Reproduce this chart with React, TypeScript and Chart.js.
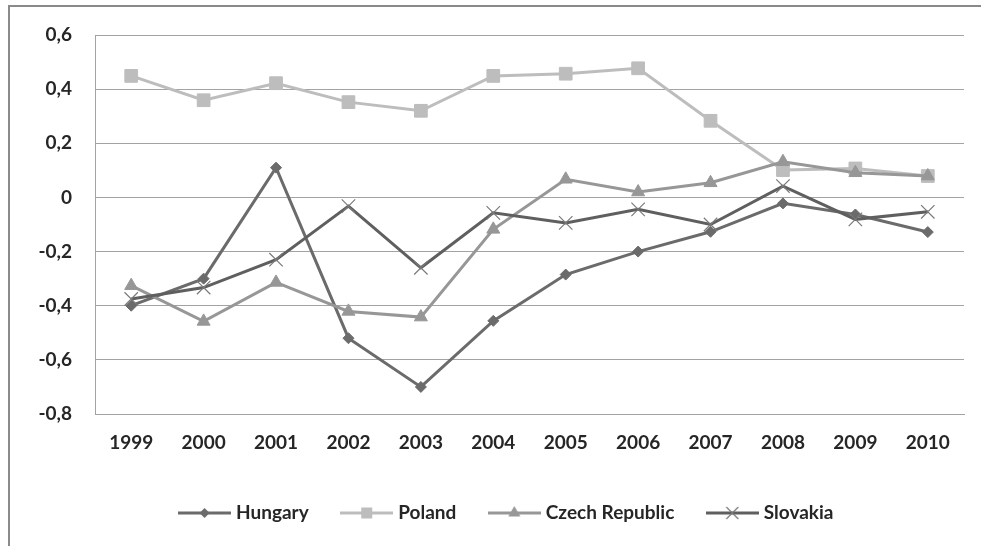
import React, { useEffect, useRef } from "react";
import { Chart, registerables } from "chart.js";

Chart.register(...registerables);

const years = ["1999", "2000", "2001", "2002", "2003", "2004", "2005", "2006", "2007", "2008", "2009", "2010"];
const hungary = [-0.4, -0.3, 0.11, -0.52, -0.7, -0.456, -0.285, -0.2, -0.127, -0.022, -0.063, -0.128];
const poland = [0.449, 0.359, 0.422, 0.352, 0.32, 0.449, 0.457, 0.477, 0.283, 0.101, 0.107, 0.079];
const czech = [-0.326, -0.458, -0.314, -0.421, -0.442, -0.118, 0.067, 0.02, 0.054, 0.132, 0.091, 0.079];
const slovakia = [-0.375, -0.333, -0.23, -0.032, -0.26, -0.057, -0.094, -0.044, -0.1, 0.042, -0.081, -0.053];
const seriesNames = ["Hungary", "Poland", "Czech Republic", "Slovakia"];
const yTicks = [-0.8, -0.6, -0.4, -0.2, 0, 0.2, 0.4, 0.6];

const FONT = { family: "Lato, 'Open Sans', sans-serif", size: 19, weight: "bold" as const };
const TEXT = "#262626";
const GRID = "#a3a3a3";

type Spec = { color: string; style: string; radius: number; markerColor: string; markerWidth: number };

const specs: Spec[] = [
  { color: "#6b6b6b", style: "rectRot", radius: 5.5, markerColor: "#6b6b6b", markerWidth: 1 },
  { color: "#bdbdbd", style: "rect", radius: 9, markerColor: "#bdbdbd", markerWidth: 1 },
  { color: "#979797", style: "triangle", radius: 7.5, markerColor: "#979797", markerWidth: 1 },
  { color: "#5f5f5f", style: "crossRot", radius: 9.5, markerColor: "#7a7a7a", markerWidth: 1.2 },
];

function makeIcon(s: Spec): HTMLCanvasElement {
  const c = document.createElement("canvas");
  c.width = 53;
  c.height = 18;
  const ctx = c.getContext("2d")!;
  const cy = 9;
  const cx = 26.5;
  ctx.strokeStyle = s.color;
  ctx.lineWidth = 3;
  ctx.beginPath();
  ctx.moveTo(0, cy);
  ctx.lineTo(53, cy);
  ctx.stroke();
  ctx.fillStyle = s.markerColor;
  ctx.strokeStyle = s.markerColor;
  ctx.lineWidth = s.markerWidth;
  ctx.beginPath();
  if (s.style === "rectRot") {
    const r = 5;
    ctx.moveTo(cx - r, cy);
    ctx.lineTo(cx, cy - r);
    ctx.lineTo(cx + r, cy);
    ctx.lineTo(cx, cy + r);
    ctx.closePath();
    ctx.fill();
  } else if (s.style === "rect") {
    const h = 5.5;
    ctx.rect(cx - h, cy - h, 2 * h, 2 * h);
    ctx.fill();
  } else if (s.style === "triangle") {
    const r = 7;
    ctx.moveTo(cx, cy - r);
    ctx.lineTo(cx + r * 0.866, cy + r * 0.5);
    ctx.lineTo(cx - r * 0.866, cy + r * 0.5);
    ctx.closePath();
    ctx.fill();
  } else {
    const d = 6;
    ctx.moveTo(cx - d, cy - d);
    ctx.lineTo(cx + d, cy + d);
    ctx.moveTo(cx + d, cy - d);
    ctx.lineTo(cx - d, cy + d);
    ctx.stroke();
  }
  return c;
}

const framePlugin = {
  id: "frame",
  afterLayout(chart: any) {
    // centre the legend row under the original figure position
    if (chart.legend) {
      chart.legend.left += 32;
    }
  },
  beforeDraw(chart: any) {
    const ctx = chart.ctx;
    ctx.save();
    ctx.strokeStyle = "#8a8a8a";
    ctx.lineWidth = 2;
    ctx.beginPath();
    ctx.moveTo(9, 546);
    ctx.lineTo(9, 6);
    ctx.lineTo(981, 6);
    ctx.stroke();
    ctx.restore();
  },
};

export default function App() {
  const ref = useRef<HTMLCanvasElement | null>(null);

  useEffect(() => {
    document.body.style.margin = "0";
    const icons = specs.map(makeIcon);
    const values = [hungary, poland, czech, slovakia];
    const chart = new Chart(ref.current!, {
      type: "line",
      data: {
        labels: years,
        datasets: values.map((v, i) => ({
          label: seriesNames[i],
          data: v,
          borderColor: specs[i].color,
          backgroundColor: specs[i].markerColor,
          borderWidth: 3,
          pointStyle: specs[i].style as any,
          pointRadius: specs[i].radius,
          pointBackgroundColor: specs[i].markerColor,
          pointBorderColor: specs[i].markerColor,
          pointBorderWidth: specs[i].markerWidth,
          tension: 0,
          fill: false,
          order: 3 - i,
        })),
      },
      options: {
        responsive: false,
        animation: false,
        layout: { padding: { left: 20, right: 17, top: 35, bottom: 13.5 } },
        scales: {
          x: {
            offset: true,
            grid: { display: false, drawTicks: false },
            border: { display: true, color: GRID, width: 1 },
            ticks: { color: TEXT, font: FONT, padding: 17, maxRotation: 0 },
            afterFit: (s: any) => {
              s.height = 53.5;
            },
          },
          y: {
            min: -0.8,
            max: 0.6,
            afterBuildTicks: (s: any) => {
              s.ticks = yTicks.map((v) => ({ value: v }));
            },
            grid: { color: GRID, lineWidth: 1, drawTicks: false },
            border: { display: true, color: GRID, width: 1 },
            ticks: {
              color: TEXT,
              font: FONT,
              padding: 23,
              callback: (v: any) => {
                const n = Number(v);
                if (Math.abs(n) < 1e-9) return "0";
                return n.toFixed(1).replace(".", ",");
              },
            },
            afterFit: (s: any) => {
              s.width = 75;
            },
          },
        },
        plugins: {
          tooltip: { enabled: false },
          legend: {
            position: "bottom",
            labels: {
              color: TEXT,
              font: FONT,
              usePointStyle: true,
              pointStyleWidth: 44,
              padding: 36,
              sort: (a: any, b: any) => a.datasetIndex - b.datasetIndex,
              generateLabels: (c: any) => {
                const items = (Chart.defaults.plugins.legend.labels as any).generateLabels(c);
                items.forEach((it: any) => {
                  it.pointStyle = icons[it.datasetIndex];
                });
                return items;
              },
            },
          },
        },
      },
      plugins: [framePlugin],
    });
    return () => chart.destroy();
  }, []);

  return (
    <div style={{ position: "fixed", left: 0, top: 0, width: 981, height: 546 }}>
      <canvas ref={ref} width={981} height={546} />
    </div>
  );
}
